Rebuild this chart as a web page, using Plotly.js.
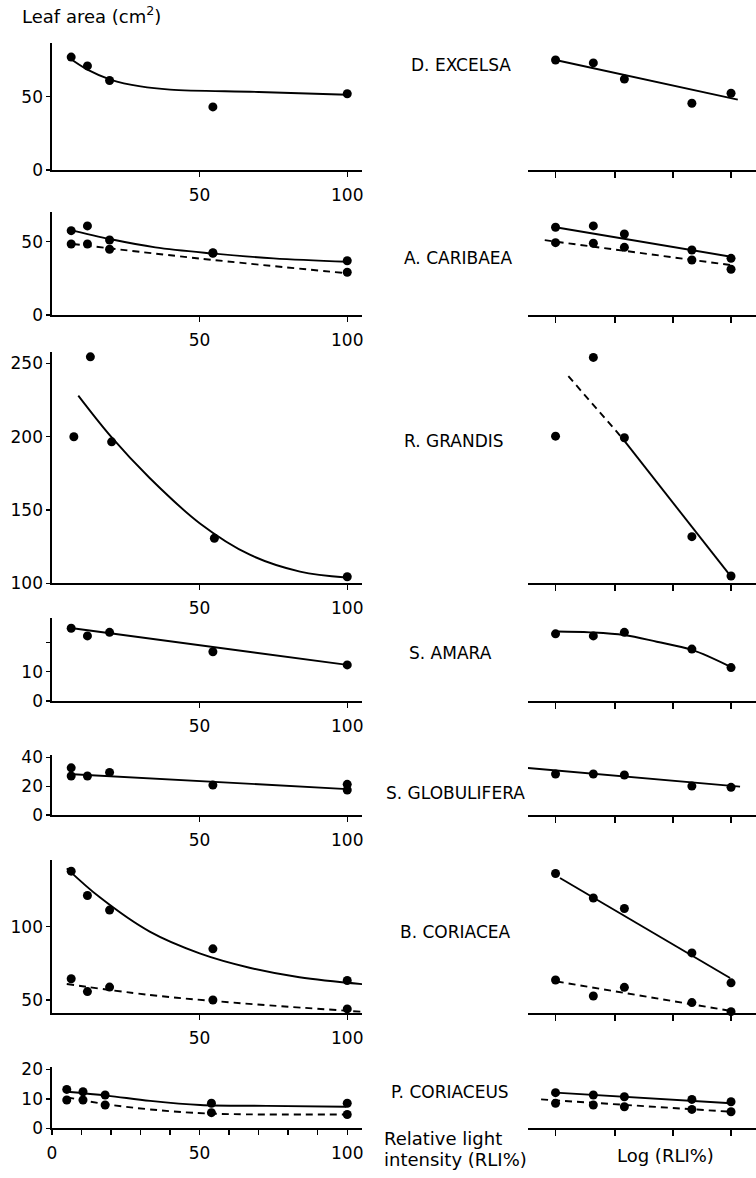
<!DOCTYPE html>
<html>
<head>
<meta charset="utf-8">
<script src="https://cdn.plot.ly/plotly-3.0.1.min.js"></script>
<style>html,body{margin:0;padding:0;background:#fff;}#chart{width:756px;height:1178px;}</style>
</head>
<body>
<div id="chart"></div>
<script>
// ---------------- DATA ----------------
const rli = [6.5, 12, 19.5, 54.5, 100];          // RLI % (linear panels)
const rliP = [5, 10.5, 18, 54, 100];             // RLI % for P. coriaceus panel
const logRli = [0.70, 0.98, 1.21, 1.71, 2.00];   // log(RLI%) positions (right panels)
const logTicks = [0.70, 1.14, 1.57, 2.00];

const speciesNames = ["D. EXCELSA", "A. CARIBAEA", "R. GRANDIS", "S. AMARA", "S. GLOBULIFERA", "B. CORIACEA", "P. CORIACEUS"];

// D. excelsa
const excelsaLin = [77, 71, 61, 43, 52];
const excelsaLog = [75, 73, 62, 45.5, 52.3];
const excelsaFitX = [5.4, 12, 20, 30, 40, 70, 100];
const excelsaFitY = [77, 68.4, 61.5, 57, 54.8, 53.2, 51.3];
const excelsaLogFitX = [0.70, 2.05];
const excelsaLogFitY = [75, 48];

// A. caribaea (solid = upper series, dashed = lower series)
const caribaeaLinA = [57.5, 60.7, 51.1, 42.5, 37];
const caribaeaLinB = [48.4, 48.4, 44.8, 42, 29.1];
const caribaeaFitAX = [5.5, 20, 35, 54, 75, 100];
const caribaeaFitAY = [58.4, 51.6, 46.1, 42, 38.6, 36.3];
const caribaeaFitBX = [7, 50, 100];
const caribaeaFitBY = [48.4, 38.5, 28.4];
const caribaeaLogA = [59.8, 60.7, 55.2, 44.3, 38.6];
const caribaeaLogB = [49.3, 48.9, 46.1, 37.5, 31.2];
const caribaeaLogFitAX = [0.70, 2.0];
const caribaeaLogFitAY = [59.8, 39.7];
const caribaeaLogFitBX = [0.62, 2.0];
const caribaeaLogFitBY = [51, 34];

// R. grandis
const grandisX = [7.4, 13, 20.2, 55, 100];
const grandisLin = [200, 254.5, 196.5, 130.7, 104.5];
const grandisFitX = [8.9, 20, 33, 50, 67, 84, 99.6];
const grandisFitY = [228, 200, 172, 141, 119.5, 108, 104];
const grandisLog = [200.4, 254.1, 199.3, 131.8, 105];
const grandisLogDashX = [0.795, 1.19];
const grandisLogDashY = [241.3, 199.5];
const grandisLogFitX = [1.19, 1.99];
const grandisLogFitY = [199.5, 105.7];

// S. amara
const amaraLin = [24.8, 22.2, 23.4, 16.8, 12.3];
const amaraFitX = [7, 100];
const amaraFitY = [24.8, 12.3];
const amaraLog = [22.9, 22.2, 23.4, 17.7, 11.4];
const amaraLogFitX = [0.711, 0.956, 1.207, 1.45, 1.711, 1.993];
const amaraLogFitY = [23.7, 23.4, 22.5, 20.2, 17.4, 11.7];

// S. globulifera
const globX = [6.5, 6.5, 12, 19.5, 54.5, 100, 100];
const globLin = [32.8, 27.1, 27.1, 29.6, 20.8, 21.3, 17.4];
const globFitX = [5.5, 100];
const globFitY = [28.5, 18];
const globLog = [28.5, 28.5, 27.8, 20.1, 19.2];
const globLogFitX = [0.474, 2.067];
const globLogFitY = [32.8, 19.7];

// B. coriacea
const bcorLinA = [137.9, 121.3, 111.3, 84.9, 63.3];
const bcorLinB = [64.5, 55.7, 58.8, 50, 43.9];
const bcorFitAX = [5, 16.2, 33.1, 50, 66.9, 83.8, 105.7];
const bcorFitAY = [139.8, 120, 96.6, 81.8, 72, 65.5, 60.7];
const bcorFitBX = [5, 33.1, 61.3, 104.6];
const bcorFitBY = [60.9, 53.4, 48.2, 42];
const bcorLogA = [136.3, 119.6, 112.4, 82.1, 61.7];
const bcorLogB = [63.6, 52.7, 58.6, 48.2, 42];
const bcorLogFitAX = [0.733, 1.993];
const bcorLogFitAY = [133.2, 65];
const bcorLogFitBX = [0.709, 1.98];
const bcorLogFitBY = [62.6, 42.8];

// P. coriaceus
const pcorLinA = [13.2, 12.4, 11.3, 8.5, 8.5];
const pcorLinB = [9.6, 9.6, 7.9, 5.3, 4.7];
const pcorFitAX = [5.1, 18.6, 33.3, 50.2, 72.7, 99.7];
const pcorFitAY = [12.4, 11.1, 9.3, 7.9, 7.6, 7.3];
const pcorFitBX = [5.1, 18.2, 33.3, 53.4, 99.7];
const pcorFitBY = [10.5, 8.2, 6.4, 5.0, 4.7];
const pcorLogA = [12.1, 11.3, 10.7, 9.8, 9.0];
const pcorLogB = [8.5, 7.9, 7.3, 6.4, 5.6];
const pcorLogFitAX = [0.70, 2.0];
const pcorLogFitAY = [12.1, 8.5];
const pcorLogFitBX = [0.593, 2.0];
const pcorLogFitBY = [9.8, 5.6];

// ---------------- LAYOUT HELPERS ----------------
const W = 756, H = 1178;
const FONT = "DejaVu Sans";
const xd = (a, b) => [a / W, b / W];
const yd = (top, bottom) => [1 - bottom / H, 1 - top / H];

// rows: pixel top/bottom, y range, y ticks (labelled) and extra unlabelled ticks
const rows = [
  {top: 43,    bottom: 170,    range: [0, 86.6],    ticks: [0, 50],              minor: []},
  {top: 211.7, bottom: 315,    range: [0, 70.4],    ticks: [0, 50],              minor: []},
  {top: 351.7, bottom: 583.3,  range: [100, 258],   ticks: [100, 150, 200, 250], minor: []},
  {top: 618,   bottom: 701,    range: [0, 28.3],    ticks: [0, 10],              minor: [20]},
  {top: 755,   bottom: 815,    range: [0, 41.7],    ticks: [0, 20, 40],          minor: []},
  {top: 860,   bottom: 1013.3, range: [40.9, 145.5], ticks: [50, 100],           minor: []},
  {top: 1066.7,bottom: 1128.3, range: [0, 20.9],    ticks: [0, 10, 20],          minor: []}
];
const lastRowMinorX = [10, 20, 30, 40, 60, 70, 80, 90];

const layout = {
  width: W, height: H,
  margin: {l: 0, r: 0, t: 0, b: 0},
  paper_bgcolor: "#fff", plot_bgcolor: "rgba(0,0,0,0)",
  showlegend: false,
  font: {family: FONT, color: "#000", size: 16},
  annotations: []
};

const tickFont = {family: FONT, size: 17, color: "#000"};

rows.forEach((r, i) => {
  const L = 2 * i + 1, R = 2 * i + 2;
  const last = i === rows.length - 1;
  layout["xaxis" + L] = {
    domain: xd(52, 362), anchor: "y" + L, range: [0, 105],
    showline: true, linecolor: "#000", linewidth: 1.6,
    ticks: "outside", ticklen: 5, tickwidth: 1.4, tickcolor: "#000",
    tickmode: "array",
    tickvals: last ? [0, 50, 100] : [50, 100],
    tickfont: tickFont, ticklabelstandoff: 4,
    showgrid: false, zeroline: false, fixedrange: true
  };
  if (last) {
    layout["xaxis" + L].minor = {tickmode: "array", tickvals: lastRowMinorX, ticks: "outside",
      ticklen: 5, tickwidth: 1.4, tickcolor: "#000", showgrid: false};
  }
  layout["yaxis" + L] = {
    domain: yd(r.top, r.bottom), anchor: "x" + L, range: r.range,
    showline: true, linecolor: "#000", linewidth: 1.6,
    ticks: "outside", ticklen: 4, tickwidth: 1.4, tickcolor: "#000",
    tickmode: "array", tickvals: r.ticks, tickfont: tickFont,
    showgrid: false, zeroline: false, fixedrange: true
  };
  if (r.minor.length) {
    layout["yaxis" + L].minor = {tickmode: "array", tickvals: r.minor, ticks: "outside",
      ticklen: 4, tickwidth: 1.4, tickcolor: "#000", showgrid: false};
  }
  layout["xaxis" + R] = {
    domain: xd(528, 756), anchor: "y" + R, range: [0.496, 2.185],
    showline: true, linecolor: "#000", linewidth: 1.6,
    ticks: "outside", ticklen: 6, tickwidth: 1.4, tickcolor: "#000",
    tickmode: "array", tickvals: logTicks, showticklabels: false,
    showgrid: false, zeroline: false, fixedrange: true
  };
  layout["yaxis" + R] = {
    domain: yd(r.top, r.bottom), anchor: "x" + R, range: r.range,
    visible: false, showgrid: false, zeroline: false, fixedrange: true
  };
});

// ---------------- TRACES ----------------
const traces = [];
function pts(n, x, y) {
  traces.push({type: "scatter", mode: "markers", x: x, y: y,
    xaxis: "x" + n, yaxis: "y" + n, cliponaxis: false,
    marker: {size: 9, color: "#000"}, hoverinfo: "skip"});
}
function fit(n, x, y, dashed, spline) {
  traces.push({type: "scatter", mode: "lines", x: x, y: y,
    xaxis: "x" + n, yaxis: "y" + n,
    line: {color: "#000", width: 1.9, dash: dashed ? "7px,5px" : "solid", shape: spline ? "spline" : "linear"},
    hoverinfo: "skip"});
}

// Row 1 D. excelsa
fit(1, excelsaFitX, excelsaFitY, false, true); pts(1, rli, excelsaLin);
fit(2, excelsaLogFitX, excelsaLogFitY, false); pts(2, logRli, excelsaLog);
// Row 2 A. caribaea
fit(3, caribaeaFitAX, caribaeaFitAY, false, true); fit(3, caribaeaFitBX, caribaeaFitBY, true, true);
pts(3, rli, caribaeaLinA); pts(3, rli, caribaeaLinB);
fit(4, caribaeaLogFitAX, caribaeaLogFitAY, false); fit(4, caribaeaLogFitBX, caribaeaLogFitBY, true);
pts(4, logRli, caribaeaLogA); pts(4, logRli, caribaeaLogB);
// Row 3 R. grandis
fit(5, grandisFitX, grandisFitY, false, true); pts(5, grandisX, grandisLin);
fit(6, grandisLogDashX, grandisLogDashY, true); fit(6, grandisLogFitX, grandisLogFitY, false);
pts(6, logRli, grandisLog);
// Row 4 S. amara
fit(7, amaraFitX, amaraFitY, false); pts(7, rli, amaraLin);
fit(8, amaraLogFitX, amaraLogFitY, false, true); pts(8, logRli, amaraLog);
// Row 5 S. globulifera
fit(9, globFitX, globFitY, false); pts(9, globX, globLin);
fit(10, globLogFitX, globLogFitY, false); pts(10, logRli, globLog);
// Row 6 B. coriacea
fit(11, bcorFitAX, bcorFitAY, false, true); fit(11, bcorFitBX, bcorFitBY, true, true);
pts(11, rli, bcorLinA); pts(11, rli, bcorLinB);
fit(12, bcorLogFitAX, bcorLogFitAY, false); fit(12, bcorLogFitBX, bcorLogFitBY, true);
pts(12, logRli, bcorLogA); pts(12, logRli, bcorLogB);
// Row 7 P. coriaceus
fit(13, pcorFitAX, pcorFitAY, false, true); fit(13, pcorFitBX, pcorFitBY, true, true);
pts(13, rliP, pcorLinA); pts(13, rliP, pcorLinB);
fit(14, pcorLogFitAX, pcorLogFitAY, false); fit(14, pcorLogFitBX, pcorLogFitBY, true);
pts(14, logRli, pcorLogA); pts(14, logRli, pcorLogB);

// ---------------- TEXT ----------------
function txt(text, px, py, anchor, size) {
  layout.annotations.push({text: text, xref: "paper", yref: "paper",
    x: px / W, y: 1 - py / H, xanchor: anchor || "center", yanchor: "middle",
    showarrow: false, font: {family: FONT, size: size || 17, color: "#000"}});
}
const labelPos = [[461, 65], [458, 258], [454, 441], [451, 653], [455, 793], [455, 932], [450, 1092]];
speciesNames.forEach((s, i) => txt(s, labelPos[i][0], labelPos[i][1], "center", 17));
txt("Leaf area (cm<sup>2</sup>)", 20, 15, "left", 18);
txt("Relative light", 382, 1138, "left", 18);
txt("intensity (RLI%)", 382, 1159, "left", 18);
txt("Log (RLI%)", 615, 1155, "left", 18);

Plotly.newPlot("chart", traces, layout, {staticPlot: true, displayModeBar: false});
</script>
</body>
</html>
